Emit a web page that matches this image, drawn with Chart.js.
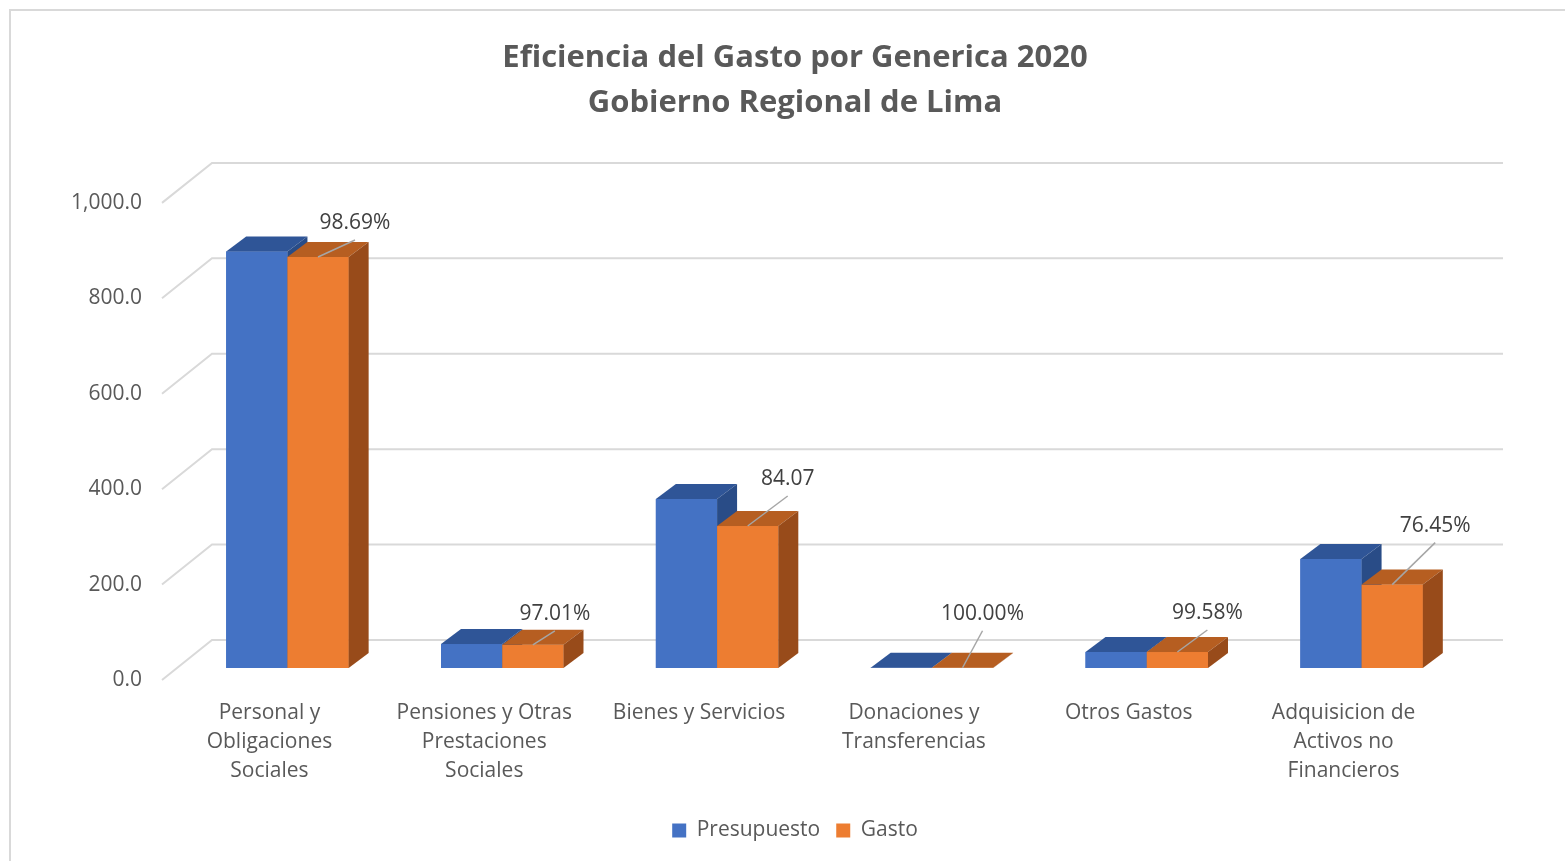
<!DOCTYPE html>
<html>
<head>
<meta charset="utf-8">
<script src="https://cdn.jsdelivr.net/npm/chart.js@4.4.1/dist/chart.umd.min.js"></script>
<style>
  html, body { margin: 0; padding: 0; background: #fff; }
</style>
</head>
<body>
<canvas id="grafico" width="1565" height="861"></canvas>
<script>
// datos
const categorias = [
  ['Personal y', 'Obligaciones', 'Sociales'],
  ['Pensiones y Otras', 'Prestaciones', 'Sociales'],
  'Bienes y Servicios',
  ['Donaciones y', 'Transferencias'],
  'Otros Gastos',
  ['Adquisicion de', 'Activos no', 'Financieros']
];
const presupuesto = [873.0, 50.2, 354.0, 0.5, 33.6, 228.7];
const gasto = [861.5, 48.7, 297.6, 0.5, 33.5, 174.8];
const eficiencia = ['98.69%', '97.01%', '84.07', '100.00%', '99.58%', '76.45%'];
const yMin = 0, yMax = 1000, yPaso = 200;

// posicion de las etiquetas (fin de la linea guia, respecto al tope de la barra)
const guias = [[37, -17], [22, -14], [40, -30], [20, -37], [30, -22], [43, -42]];

const FUENTE = '"Open Sans"';
const DX = 20, DY = -15;          // profundidad de cada barra
const SX = 18, SY = -12;          // barras a media profundidad
const PX = 50, PY = -40;          // pared del fondo

const colores = [
  { frente: '#4472C4', tope: '#2F5597', lado: '#294C87' },
  { frente: '#ED7D31', tope: '#B65E21', lado: '#984B1A' }
];

function poly(ctx, pts, color) {
  ctx.beginPath();
  ctx.moveTo(pts[0][0], pts[0][1]);
  for (let i = 1; i < pts.length; i++) ctx.lineTo(pts[i][0], pts[i][1]);
  ctx.closePath();
  ctx.fillStyle = color;
  ctx.fill();
}

const barras3d = {
  id: 'barras3d',
  beforeDraw(chart) {
    const ctx = chart.ctx;
    ctx.save();
    ctx.strokeStyle = '#d9d9d9';
    ctx.lineWidth = 2;
    ctx.strokeRect(10, 10, 1620, 920);
    ctx.restore();
  },
  beforeDatasetsDraw(chart) {
    const ctx = chart.ctx;
    const y = chart.scales.y;
    const area = chart.chartArea;
    // lineas de la pared lateral y del fondo
    ctx.save();
    ctx.strokeStyle = '#d9d9d9';
    ctx.lineWidth = 2;
    y.ticks.forEach(t => {
      const py = y.getPixelForValue(t.value);
      ctx.beginPath();
      ctx.moveTo(area.left, py);
      ctx.lineTo(area.left + PX, py + PY);
      ctx.lineTo(area.right + PX + 2, py + PY);
      ctx.stroke();
    });
    ctx.restore();
    ctx.save();
    ctx.translate(SX, SY);
  },
  afterDatasetsDraw(chart) {
    const ctx = chart.ctx;
    const n = chart.data.labels.length;
    for (let i = 0; i < n; i++) {
      for (let d = 0; d < 2; d++) {
        const bar = chart.getDatasetMeta(d).data[i];
        const p = bar.getProps(['x', 'y', 'base', 'width'], true);
        const l = p.x - p.width / 2, r = p.x + p.width / 2;
        const c = colores[d];
        ctx.fillStyle = c.frente;
        ctx.fillRect(l, p.y, p.width, p.base - p.y);
        poly(ctx, [[l, p.y], [r, p.y], [r + DX, p.y + DY], [l + DX, p.y + DY]], c.tope);
        poly(ctx, [[r, p.y], [r + DX, p.y + DY], [r + DX, p.base + DY], [r, p.base]], c.lado);
      }
    }
    // etiquetas de eficiencia sobre la barra de gasto
    ctx.font = '21px ' + FUENTE;
    ctx.textAlign = 'center';
    ctx.textBaseline = 'middle';
    for (let i = 0; i < n; i++) {
      const bar = chart.getDatasetMeta(1).data[i];
      const p = bar.getProps(['x', 'y'], true);
      const ex = p.x + guias[i][0], ey = p.y + guias[i][1];
      ctx.strokeStyle = '#a6a6a6';
      ctx.lineWidth = 1.5;
      ctx.beginPath();
      ctx.moveTo(p.x, p.y);
      ctx.lineTo(ex, ey);
      ctx.stroke();
      ctx.fillStyle = '#404040';
      ctx.fillText(eficiencia[i], ex, ey - 17);
    }
    ctx.restore();
  }
};

new Chart(document.getElementById('grafico'), {
  type: 'bar',
  data: {
    labels: categorias,
    datasets: [
      { label: 'Presupuesto', data: presupuesto, backgroundColor: colores[0].frente },
      { label: 'Gasto', data: gasto, backgroundColor: colores[1].frente }
    ]
  },
  options: {
    responsive: false,
    animation: false,
    devicePixelRatio: 1,
    categoryPercentage: 0.57,
    barPercentage: 1.0,
    layout: { padding: { left: 65, right: 40, top: 10, bottom: 10 } },
    scales: {
      x: {
        grid: { display: false },
        border: { display: false },
        ticks: {
          color: '#595959',
          font: { family: FUENTE, size: 21, lineHeight: 1.4 },
          padding: 10,
          maxRotation: 0,
          autoSkip: false
        },
        afterFit(s) { s.height = 124; }
      },
      y: {
        min: yMin,
        max: yMax,
        grid: { display: false, drawTicks: false },
        border: { display: false },
        ticks: {
          stepSize: yPaso,
          color: '#595959',
          font: { family: FUENTE, size: 21 },
          padding: 20,
          callback: v => v.toLocaleString('en-US', { minimumFractionDigits: 1, maximumFractionDigits: 1 })
        },
        afterFit(s) { s.width = 97; }
      },
      // eje vacio a la derecha, solo reserva espacio
      derecha: {
        type: 'linear',
        position: 'right',
        grid: { display: false },
        border: { display: false },
        ticks: { display: false },
        afterFit(s) { s.width = 74; }
      }
    },
    plugins: {
      tooltip: { enabled: false },
      title: {
        display: true,
        text: ['Eficiencia del Gasto por Generica 2020', 'Gobierno Regional de Lima'],
        color: '#595959',
        font: { family: FUENTE, size: 31, weight: 'bold', lineHeight: 1.45 },
        padding: { top: 26, bottom: 77 }
      },
      legend: {
        position: 'bottom',
        labels: {
          color: '#595959',
          font: { family: FUENTE, size: 21 },
          boxWidth: 14,
          boxHeight: 14,
          padding: 16
        }
      }
    }
  },
  plugins: [barras3d]
});
</script>
</body>
</html>
